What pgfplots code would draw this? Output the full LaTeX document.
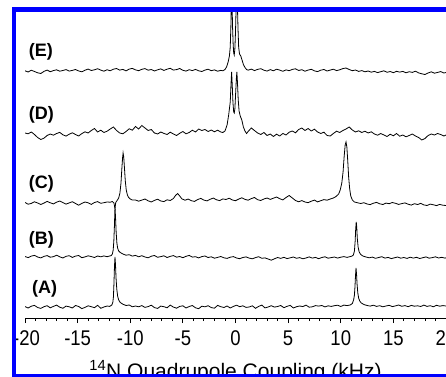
\documentclass[border=0pt]{standalone}
\usepackage{pgfplots}
\pgfplotsset{compat=1.18}
\usepackage{fontspec}
\setmainfont{Liberation Sans}
\begin{document}
\begin{tikzpicture}
\begin{axis}[
  at={(25bp,59bp)}, anchor=south west,
  scale only axis, width=421bp, height=306bp,
  xmin=-20, xmax=20, ymin=59, ymax=365,
  axis x line=bottom, axis y line=none, ytick=\empty,
  x axis line style={-, line width=0.9bp},
  xtick={-20,-15,...,20},
  xticklabels={{\kern3bp-20},-15,-10,-5,0,5,10,15,20},
  minor x tick num=4,
  tick align=outside,
  major tick length=5bp, minor tick length=3bp,
  every tick/.style={black, line width=0.9bp},
  xticklabel style={font=\fontsize{18.5bp}{20bp}\selectfont, yshift=-4bp, yscale=1.15},
  xlabel={\textsuperscript{14}N Quadrupole Coupling (kHz)},
  xlabel style={font=\fontsize{21bp}{24bp}\selectfont, at={(axis description cs:0.5,0)}, anchor=base, yshift=-60bp},
  no markers,
  cycle list={{black, line width=0.8bp}},
]
% (A)
\addplot[black, line width=0.8bp] coordinates {(-20.0,70.4) (-19.7,69.0) (-19.4,70.8) (-19.1,71.6) (-18.8,69.5) (-18.5,68.6) (-18.2,70.3) (-17.9,71.3) (-17.6,69.2) (-17.3,70.6) (-17.0,71.9) (-16.7,69.8) (-16.4,68.7) (-16.1,70.9) (-15.8,70.2) (-15.5,69.0) (-15.2,71.5) (-14.9,70.5) (-14.6,68.4) (-14.3,69.6) (-14.0,71.2) (-13.7,70.3) (-13.4,69.3) (-13.1,71.7) (-12.8,68.7) (-12.5,70.0) (-12.2,71.0) (-11.95,70.6) (-11.75,72) (-11.65,75) (-11.6,80) (-11.55,93) (-11.5,110) (-11.45,120) (-11.4,112) (-11.35,99) (-11.28,88) (-11.2,81) (-11.1,77) (-10.95,74.5) (-10.7,72.8) (-10.4,71.5) (-10.1,72.0) (-9.8,70.2) (-9.5,71.0) (-9.2,70.2) (-8.9,71.4) (-8.6,69.6) (-8.3,70.4) (-8.0,71.8) (-7.7,69.4) (-7.4,68.6) (-7.1,70.9) (-6.8,70.3) (-6.5,69.2) (-6.2,71.9) (-5.9,69.9) (-5.6,68.8) (-5.3,70.6) (-5.0,71.2) (-4.7,69.0) (-4.4,70.5) (-4.1,71.5) (-3.8,69.2) (-3.5,68.3) (-3.2,70.8) (-2.9,70.2) (-2.6,71.3) (-2.3,69.4) (-2.0,68.8) (-1.7,71.6) (-1.4,70.3) (-1.1,69.5) (-0.8,71.0) (-0.5,69.0) (-0.2,70.6) (0.1,71.8) (0.4,70.3) (0.7,71.2) (1.0,69.6) (1.3,70.0) (1.6,71.2) (1.9,68.7) (2.2,70.6) (2.5,71.9) (2.8,69.1) (3.1,70.0) (3.4,71.3) (3.7,69.9) (4.0,70.5) (4.3,71.5) (4.6,69.3) (4.9,70.7) (5.2,71.6) (5.5,69.0) (5.8,70.3) (6.1,71.0) (6.4,70.4) (6.7,71.9) (7.0,69.8) (7.3,70.2) (7.6,71.4) (7.9,70.9) (8.2,71.5) (8.5,70.1) (8.8,71.2) (9.1,70.6) (9.4,71.3) (9.7,71.8) (10.0,70.5) (10.3,71.9) (10.6,71.4) (10.9,72.0) (11.1,73.5) (11.22,77) (11.3,82) (11.35,90) (11.4,101) (11.45,109) (11.5,103) (11.55,93) (11.62,84) (11.7,79) (11.8,76) (11.95,74) (12.2,72.5) (12.5,71.5) (12.8,70.9) (13.1,71.8) (13.4,70.6) (13.7,71.3) (14.0,70.2) (14.3,71.0) (14.6,71.7) (14.9,70.4) (15.2,71.1) (15.5,72.0) (15.8,70.7) (16.1,71.4) (16.4,70.3) (16.7,71.6) (17.0,70.8) (17.3,71.2) (17.6,70.5) (17.9,71.9) (18.2,70.6) (18.5,71.3) (18.8,70.2) (19.1,71.7) (19.4,70.8) (19.7,71.4) (20.0,71.0)};
% (B)
\addplot[black, line width=0.8bp] coordinates {(-20.0,120.5) (-19.7,119.4) (-19.4,120.9) (-19.1,121.6) (-18.8,120.0) (-18.5,119.1) (-18.2,120.6) (-17.9,121.4) (-17.6,119.8) (-17.3,120.3) (-17.0,121.8) (-16.7,120.2) (-16.4,119.0) (-16.1,120.7) (-15.8,121.3) (-15.5,119.6) (-15.2,120.9) (-14.9,121.5) (-14.6,119.3) (-14.3,120.1) (-14.0,121.2) (-13.7,120.4) (-13.4,119.5) (-13.1,121.0) (-12.8,120.2) (-12.5,121.1) (-12.2,120.3) (-11.95,121.0) (-11.8,121.5) (-11.7,123) (-11.62,127) (-11.56,136) (-11.5,152) (-11.45,170) (-11.4,160) (-11.34,145) (-11.27,134) (-11.2,129) (-11.1,126) (-10.95,124.5) (-10.7,123) (-10.4,121.8) (-10.1,122.3) (-9.8,120.9) (-9.5,121.6) (-9.2,120.2) (-8.9,121.3) (-8.6,120.0) (-8.3,119.2) (-8.0,120.8) (-7.7,121.5) (-7.4,119.7) (-7.1,120.4) (-6.8,121.2) (-6.5,119.5) (-6.2,120.6) (-5.9,121.4) (-5.6,119.8) (-5.3,120.5) (-5.0,119.3) (-4.7,120.7) (-4.4,121.6) (-4.1,119.9) (-3.8,120.3) (-3.5,119.1) (-3.2,120.4) (-2.9,121.0) (-2.6,119.5) (-2.3,120.2) (-2.0,118.8) (-1.7,119.6) (-1.4,120.5) (-1.1,119.2) (-0.8,118.6) (-0.5,119.8) (-0.2,120.4) (0.1,119.0) (0.4,118.3) (0.7,119.5) (1.0,120.1) (1.3,118.9) (1.6,118.2) (1.9,119.4) (2.2,120.3) (2.5,118.7) (2.8,119.1) (3.1,118.0) (3.4,116.8) (3.7,118.2) (4.0,119.5) (4.3,118.6) (4.6,119.7) (4.9,118.4) (5.2,119.2) (5.5,120.0) (5.8,118.7) (6.1,119.4) (6.4,118.2) (6.7,119.0) (7.0,120.1) (7.3,118.9) (7.6,119.6) (7.9,118.3) (8.2,119.5) (8.5,120.2) (8.8,118.8) (9.1,119.4) (9.4,120.0) (9.7,118.9) (10.0,119.8) (10.3,120.4) (10.6,119.6) (10.85,120.3) (11.05,120.8) (11.2,122) (11.3,126) (11.37,136) (11.42,148) (11.47,155) (11.52,150) (11.57,139) (11.65,130) (11.75,125) (11.9,122.5) (12.1,121) (12.4,120.0) (12.7,119.2) (13.0,119.9) (13.3,118.7) (13.6,119.5) (13.9,120.3) (14.2,118.9) (14.5,119.6) (14.8,118.4) (15.1,119.2) (15.4,120.0) (15.7,118.8) (16.0,119.5) (16.3,118.6) (16.6,119.8) (16.9,118.9) (17.2,119.7) (17.5,118.5) (17.8,119.3) (18.1,120.1) (18.4,118.8) (18.7,119.4) (19.0,120.2) (19.3,119.0) (19.6,119.7) (19.9,118.9) (20.0,119.2)};
% (C)
\addplot[black, line width=0.8bp] coordinates {(-20.0,174.5) (-19.7,172.8) (-19.4,173.6) (-19.1,175.2) (-18.8,174.0) (-18.5,172.5) (-18.2,173.9) (-17.9,175.6) (-17.6,174.2) (-17.3,173.1) (-17.0,174.8) (-16.7,176.0) (-16.4,174.4) (-16.1,172.9) (-15.8,174.1) (-15.5,175.3) (-15.2,173.5) (-14.9,171.8) (-14.6,173.6) (-14.3,175.0) (-14.0,174.2) (-13.7,172.6) (-13.4,174.5) (-13.1,175.4) (-12.8,173.7) (-12.5,174.3) (-12.2,175.0) (-11.9,174.8) (-11.7,175.5) (-11.55,174.0) (-11.45,168.5) (-11.38,174.5) (-11.25,176.5) (-11.1,179) (-10.98,184) (-10.88,194) (-10.8,208) (-10.73,219) (-10.68,224) (-10.62,220) (-10.55,209) (-10.47,196) (-10.38,187) (-10.27,182) (-10.15,179.5) (-10.0,178) (-9.8,177) (-9.5,177.0) (-9.2,175.8) (-8.9,176.9) (-8.6,178.0) (-8.3,176.2) (-8.0,175.0) (-7.7,176.6) (-7.4,177.8) (-7.1,176.0) (-6.8,175.4) (-6.5,177.2) (-6.2,176.5) (-5.9,178.5) (-5.7,181.5) (-5.5,183.5) (-5.3,181) (-5.1,178.2) (-4.8,176.8) (-4.5,177.9) (-4.2,176.3) (-3.9,175.6) (-3.6,177.4) (-3.3,178.6) (-3.0,176.9) (-2.7,176.1) (-2.4,177.8) (-2.1,178.9) (-1.8,177.2) (-1.5,176.4) (-1.2,178.1) (-0.9,177.5) (-0.6,178.8) (-0.3,177.0) (0.0,176.3) (0.3,177.9) (0.6,179.2) (0.9,177.6) (1.2,176.8) (1.5,178.4) (1.8,179.5) (2.1,177.3) (2.4,176.5) (2.7,178.0) (3.0,179.0) (3.3,177.6) (3.6,178.8) (3.9,180.0) (4.2,178.3) (4.5,177.1) (4.8,179.5) (5.1,181.5) (5.4,179.0) (5.7,176.5) (6.0,175.2) (6.3,176.4) (6.6,175.0) (6.9,174.3) (7.2,175.8) (7.5,176.9) (7.8,175.1) (8.1,176.3) (8.4,177.4) (8.7,176.8) (9.0,178.0) (9.3,179.0) (9.55,180.5) (9.8,183) (9.95,187) (10.1,194) (10.22,205) (10.32,220) (10.42,232) (10.5,235) (10.58,230) (10.66,217) (10.75,200) (10.85,188) (10.95,181) (11.1,177) (11.3,175) (11.6,174.2) (11.9,173.5) (12.2,174.3) (12.5,173.0) (12.8,172.4) (13.1,173.8) (13.4,174.6) (13.7,173.2) (14.0,172.5) (14.3,173.9) (14.6,173.3) (14.9,174.5) (15.2,173.7) (15.5,172.6) (15.8,173.4) (16.1,174.1) (16.4,172.8) (16.7,171.9) (17.0,173.3) (17.3,172.5) (17.6,173.6) (17.9,172.1) (18.2,171.5) (18.5,172.9) (18.8,172.2) (19.1,171.4) (19.4,172.6) (19.7,171.8) (20.0,171.5)};
% (D)
\addplot[black, line width=0.8bp] coordinates {(-20.0,244.0) (-19.7,243.2) (-19.4,245.0) (-19.1,242.5) (-18.8,239.5) (-18.5,237.5) (-18.2,238.8) (-17.9,241.5) (-17.6,243.0) (-17.3,241.8) (-17.0,243.5) (-16.7,244.6) (-16.4,242.2) (-16.1,240.9) (-15.8,242.8) (-15.5,244.2) (-15.2,242.5) (-14.9,241.0) (-14.6,243.4) (-14.3,245.2) (-14.0,244.0) (-13.7,246.5) (-13.4,248.5) (-13.1,245.0) (-12.8,246.8) (-12.5,244.5) (-12.2,245.8) (-11.9,248.0) (-11.6,250.0) (-11.3,246.5) (-11.0,244.0) (-10.7,243.2) (-10.4,245.5) (-10.1,248.2) (-9.8,246.8) (-9.5,250.5) (-9.2,248.0) (-8.9,251.5) (-8.6,249.0) (-8.3,246.5) (-8.0,247.5) (-7.7,244.0) (-7.4,243.0) (-7.1,245.0) (-6.8,243.6) (-6.5,242.5) (-6.2,244.8) (-5.9,243.0) (-5.6,241.5) (-5.3,243.7) (-5.0,245.5) (-4.7,243.2) (-4.4,244.5) (-4.1,246.8) (-3.8,245.0) (-3.5,248.0) (-3.2,246.5) (-2.9,247.5) (-2.6,245.5) (-2.3,247.0) (-2.0,245.2) (-1.7,246.8) (-1.4,245.0) (-1.2,244.5) (-1.0,246) (-0.8,252) (-0.65,262) (-0.5,275) (-0.43,292) (-0.37,305) (-0.31,292) (-0.24,274) (-0.17,265) (-0.12,264) (-0.06,268) (0.02,285) (0.08,298) (0.13,305) (0.19,294) (0.26,277) (0.34,266) (0.45,261) (0.6,257) (0.75,250) (0.9,246) (1.05,243.5) (1.2,245.5) (1.5,249.0) (1.8,246.5) (2.1,244.0) (2.4,242.5) (2.7,244.5) (3.0,241.5) (3.3,243.0) (3.6,240.5) (3.9,242.8) (4.2,241.0) (4.5,243.5) (4.8,242.0) (5.1,244.8) (5.4,246.0) (5.7,244.2) (6.0,247.5) (6.3,249.0) (6.6,246.5) (6.9,248.5) (7.2,246.0) (7.5,247.8) (7.8,245.0) (8.1,243.5) (8.4,244.8) (8.7,241.5) (9.0,241.0) (9.3,243.5) (9.6,245.8) (9.9,244.5) (10.2,246.5) (10.5,248.0) (10.8,250.0) (11.1,247.0) (11.4,245.0) (11.7,246.2) (12.0,244.5) (12.3,245.8) (12.6,244.0) (12.9,245.2) (13.2,243.0) (13.5,241.8) (13.8,243.5) (14.1,242.0) (14.4,240.5) (14.7,242.8) (15.0,241.2) (15.3,243.5) (15.6,240.8) (15.9,242.0) (16.2,240.2) (16.5,241.5) (16.8,243.0) (17.1,241.0) (17.4,239.5) (17.7,237.0) (18.0,238.5) (18.3,241.5) (18.6,243.0) (18.9,242.0) (19.2,243.5) (19.5,242.5) (19.8,241.0) (20.0,242.0)};
% (E)
\addplot[black, line width=0.8bp] coordinates {(-20.0,306.2) (-19.7,305.0) (-19.4,306.8) (-19.1,305.5) (-18.8,304.2) (-18.5,303.5) (-18.2,305.6) (-17.9,306.9) (-17.6,305.3) (-17.3,306.4) (-17.0,307.2) (-16.7,305.8) (-16.4,306.5) (-16.1,307.4) (-15.8,305.9) (-15.5,306.6) (-15.2,307.5) (-14.9,306.0) (-14.6,305.2) (-14.3,306.8) (-14.0,307.9) (-13.7,306.5) (-13.4,307.2) (-13.1,308.3) (-12.8,306.9) (-12.5,305.8) (-12.2,307.3) (-11.9,306.2) (-11.6,307.8) (-11.3,308.5) (-11.0,306.9) (-10.7,307.6) (-10.4,306.1) (-10.1,307.9) (-9.8,308.6) (-9.5,307.1) (-9.2,306.3) (-8.9,307.7) (-8.6,308.4) (-8.3,306.8) (-8.0,307.5) (-7.7,306.0) (-7.4,307.2) (-7.1,308.1) (-6.8,306.6) (-6.5,307.8) (-6.2,308.7) (-5.9,306.9) (-5.6,307.4) (-5.3,308.5) (-5.0,306.7) (-4.7,305.9) (-4.4,307.3) (-4.1,306.4) (-3.8,307.6) (-3.5,306.2) (-3.2,305.5) (-2.9,306.9) (-2.6,307.8) (-2.3,306.3) (-2.0,307.1) (-1.7,305.8) (-1.4,306.6) (-1.2,306.2) (-1.0,307.5) (-0.85,310) (-0.7,315) (-0.58,321) (-0.5,330) (-0.44,350) (-0.4,372) (-0.37,395) (-0.33,375) (-0.28,350) (-0.22,332) (-0.17,324) (-0.12,322) (-0.06,328) (0.0,345) (0.06,370) (0.13,395) (0.18,372) (0.24,348) (0.3,330) (0.38,323) (0.5,321) (0.62,317) (0.75,312.5) (0.9,309.5) (1.05,307.5) (1.2,306.8) (1.5,307.9) (1.8,306.4) (2.1,307.6) (2.4,308.3) (2.7,306.8) (3.0,305.9) (3.3,307.4) (3.6,306.2) (3.9,307.8) (4.2,306.9) (4.5,305.7) (4.8,307.1) (5.1,306.3) (5.4,307.6) (5.7,308.2) (6.0,306.5) (6.3,307.3) (6.6,305.8) (6.9,306.9) (7.2,307.7) (7.5,306.1) (7.8,305.4) (8.1,306.8) (8.4,307.5) (8.7,306.0) (9.0,306.9) (9.3,307.8) (9.6,306.4) (9.9,307.2) (10.2,308.4) (10.5,309.0) (10.8,307.5) (11.1,306.3) (11.4,307.0) (11.7,305.6) (12.0,306.4) (12.3,305.2) (12.6,306.0) (12.9,304.8) (13.2,305.6) (13.5,304.4) (13.8,305.3) (14.1,306.2) (14.4,304.7) (14.7,305.5) (15.0,304.3) (15.3,305.7) (15.6,304.9) (15.9,305.6) (16.2,304.2) (16.5,305.3) (16.8,304.6) (17.1,305.8) (17.4,304.1) (17.7,303.2) (18.0,302.5) (18.3,304.0) (18.6,305.2) (18.9,303.8) (19.2,304.6) (19.5,305.4) (19.8,304.0) (20.0,304.5)};
\node[anchor=west, font=\bfseries\fontsize{18bp}{20bp}\selectfont, inner sep=0pt] at (axis cs:-19.65,325) {(E)};
\node[anchor=west, font=\bfseries\fontsize{18bp}{20bp}\selectfont, inner sep=0pt] at (axis cs:-19.65,262) {(D)};
\node[anchor=west, font=\bfseries\fontsize{18bp}{20bp}\selectfont, inner sep=0pt] at (axis cs:-19.65,193) {(C)};
\node[anchor=west, font=\bfseries\fontsize{18bp}{20bp}\selectfont, inner sep=0pt] at (axis cs:-19.65,137) {(B)};
\node[anchor=west, font=\bfseries\fontsize{18bp}{20bp}\selectfont, inner sep=0pt] at (axis cs:-19.35,88) {(A)};
\end{axis}
\fill[blue] (12bp,0bp) rectangle (446bp,3bp);
\fill[blue] (12bp,365bp) rectangle (446bp,370bp);
\fill[blue] (12bp,0bp) rectangle (16bp,370bp);
\pgfresetboundingbox
\useasboundingbox (0bp,0bp) rectangle (446bp,377bp);
\end{tikzpicture}
\end{document}
